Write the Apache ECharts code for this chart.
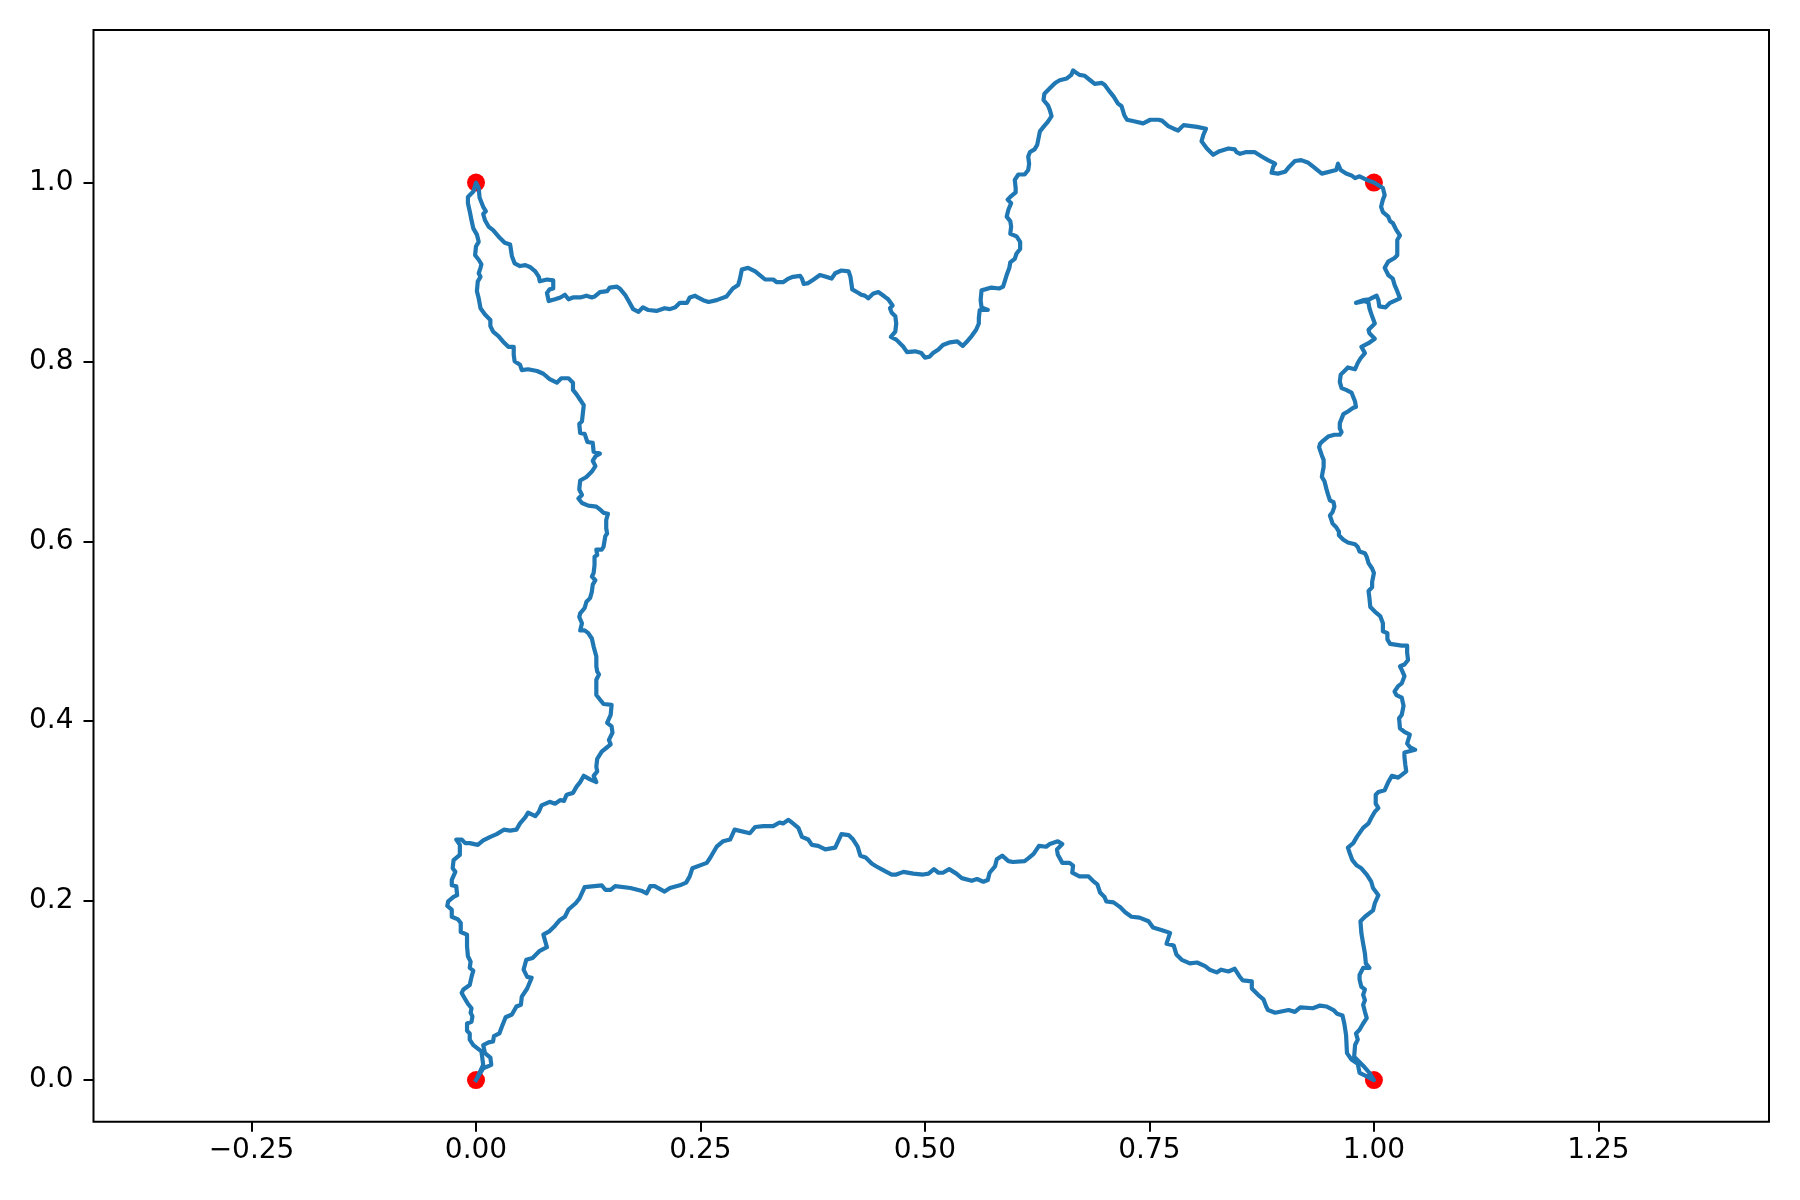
<!DOCTYPE html>
<html>
<head>
<meta charset="utf-8">
<script src="https://cdn.jsdelivr.net/npm/echarts@6/dist/echarts.min.js"></script>
<style>
html,body{margin:0;padding:0;background:#fff;}
#chart{width:1800px;height:1200px;}
</style>
</head>
<body>
<div id="chart"></div>
<script>
// Corner points (red markers)
const corners = [[0,0],[1,0],[1,1],[0,1]];

// Tick values
const xTicks = [-0.25, 0, 0.25, 0.5, 0.75, 1, 1.25];
const yTicks = [0, 0.2, 0.4, 0.6, 0.8, 1.0];

// Random-walk path pieces
const bottomPath = [[0,0],[0.008,0.013],[0.017,0.017],[0.016,0.025],[0.010,0.030],[0.008,0.039],[0.014,0.042],[0.019,0.043],[0.020,0.049],[0.026,0.052],[0.029,0.060],[0.033,0.070],[0.040,0.073],[0.045,0.082],[0.050,0.084],[0.051,0.093],[0.057,0.102],[0.062,0.114],[0.057,0.115],[0.053,0.123],[0.056,0.134],[0.063,0.136],[0.071,0.144],[0.079,0.148],[0.075,0.162],[0.082,0.166],[0.088,0.172],[0.093,0.178],[0.099,0.182],[0.103,0.190],[0.111,0.197],[0.115,0.202],[0.121,0.215],[0.140,0.217],[0.144,0.212],[0.150,0.212],[0.155,0.216],[0.172,0.214],[0.184,0.211],[0.190,0.208],[0.194,0.216],[0.199,0.216],[0.210,0.210],[0.216,0.214],[0.227,0.217],[0.234,0.220],[0.238,0.227],[0.241,0.236],[0.257,0.242],[0.261,0.248],[0.268,0.260],[0.275,0.266],[0.283,0.268],[0.288,0.279],[0.305,0.275],[0.311,0.282],[0.320,0.283],[0.331,0.283],[0.338,0.287],[0.342,0.286],[0.348,0.290],[0.353,0.286],[0.359,0.281],[0.363,0.271],[0.370,0.268],[0.374,0.262],[0.381,0.261],[0.389,0.257],[0.400,0.259],[0.407,0.274],[0.415,0.273],[0.420,0.268],[0.425,0.260],[0.428,0.250],[0.434,0.248],[0.441,0.241],[0.446,0.238],[0.455,0.233],[0.463,0.229],[0.468,0.229],[0.476,0.232],[0.487,0.230],[0.498,0.229],[0.504,0.230],[0.510,0.235],[0.515,0.231],[0.520,0.231],[0.527,0.235],[0.535,0.230],[0.541,0.225],[0.552,0.222],[0.558,0.224],[0.565,0.221],[0.570,0.223],[0.572,0.231],[0.578,0.238],[0.580,0.246],[0.586,0.250],[0.593,0.244],[0.598,0.243],[0.611,0.244],[0.615,0.247],[0.621,0.252],[0.627,0.261],[0.635,0.260],[0.639,0.263],[0.648,0.266],[0.653,0.263],[0.647,0.257],[0.648,0.251],[0.653,0.242],[0.661,0.242],[0.665,0.239],[0.664,0.231],[0.672,0.227],[0.682,0.227],[0.687,0.222],[0.692,0.218],[0.695,0.209],[0.700,0.204],[0.702,0.199],[0.710,0.198],[0.717,0.193],[0.723,0.187],[0.730,0.182],[0.739,0.181],[0.749,0.177],[0.754,0.170],[0.764,0.167],[0.773,0.164],[0.769,0.152],[0.777,0.150],[0.780,0.140],[0.786,0.134],[0.795,0.130],[0.803,0.131],[0.812,0.127],[0.817,0.123],[0.825,0.120],[0.830,0.123],[0.838,0.121],[0.845,0.124],[0.850,0.116],[0.854,0.111],[0.864,0.110],[0.864,0.102],[0.871,0.095],[0.877,0.090],[0.880,0.082],[0.882,0.078],[0.890,0.075],[0.905,0.078],[0.912,0.076],[0.918,0.081],[0.932,0.080],[0.940,0.083],[0.947,0.082],[0.955,0.078],[0.959,0.074],[0.965,0.072],[0.967,0.063],[0.969,0.050],[0.971,0.049],[0.970,0.030],[0.975,0.023],[0.982,0.018],[0.984,0.008],[0.992,0.004],[1,0]];

const rightPath = [[1,0],[0.995,0.008],[0.988,0.016],[0.978,0.026],[0.979,0.039],[0.982,0.045],[0.980,0.052],[0.984,0.056],[0.988,0.063],[0.992,0.069],[0.990,0.076],[0.988,0.084],[0.986,0.086],[0.990,0.089],[0.988,0.095],[0.990,0.101],[0.986,0.104],[0.984,0.112],[0.984,0.117],[0.988,0.125],[0.995,0.125],[0.991,0.130],[0.990,0.141],[0.988,0.152],[0.986,0.164],[0.985,0.177],[0.990,0.182],[0.999,0.189],[1.001,0.197],[1.005,0.206],[0.999,0.214],[0.997,0.221],[0.992,0.229],[0.986,0.236],[0.981,0.239],[0.976,0.245],[0.973,0.253],[0.971,0.259],[0.977,0.264],[0.981,0.271],[0.988,0.281],[0.994,0.286],[0.997,0.292],[1.001,0.299],[1.005,0.303],[1.002,0.308],[1.002,0.318],[1.005,0.321],[1.012,0.323],[1.016,0.332],[1.020,0.339],[1.027,0.337],[1.031,0.340],[1.036,0.344],[1.035,0.351],[1.034,0.360],[1.034,0.365],[1.046,0.368],[1.040,0.371],[1.037,0.375],[1.040,0.385],[1.034,0.388],[1.029,0.392],[1.028,0.403],[1.031,0.407],[1.033,0.417],[1.031,0.426],[1.025,0.429],[1.023,0.433],[1.027,0.439],[1.031,0.442],[1.034,0.450],[1.031,0.457],[1.029,0.461],[1.034,0.463],[1.038,0.468],[1.037,0.476],[1.037,0.484],[1.031,0.484],[1.018,0.486],[1.015,0.491],[1.015,0.498],[1.010,0.500],[1.010,0.509],[1.007,0.517],[1.001,0.522],[0.996,0.527],[0.995,0.537],[0.994,0.545],[0.998,0.549],[0.998,0.555],[1.000,0.565],[0.998,0.570],[0.994,0.576],[0.992,0.583],[0.990,0.587],[0.984,0.589],[0.982,0.594],[0.979,0.597],[0.971,0.599],[0.966,0.602],[0.961,0.607],[0.961,0.611],[0.958,0.616],[0.954,0.620],[0.951,0.629],[0.954,0.633],[0.956,0.639],[0.955,0.644],[0.951,0.646],[0.949,0.652],[0.947,0.659],[0.945,0.667],[0.942,0.672],[0.943,0.678],[0.944,0.683],[0.944,0.691],[0.942,0.696],[0.939,0.705],[0.940,0.709],[0.943,0.712],[0.949,0.717],[0.956,0.719],[0.962,0.719],[0.964,0.722],[0.962,0.726],[0.962,0.732],[0.964,0.737],[0.966,0.742],[0.971,0.745],[0.977,0.749],[0.980,0.750],[0.979,0.756],[0.975,0.766],[0.969,0.769],[0.964,0.771],[0.962,0.778],[0.963,0.786],[0.968,0.791],[0.971,0.794],[0.979,0.792],[0.982,0.799],[0.985,0.804],[0.990,0.810],[0.986,0.817],[0.994,0.821],[1.001,0.826],[0.995,0.832],[0.994,0.836],[0.998,0.840],[1.001,0.843],[0.998,0.851],[0.995,0.860],[0.994,0.866],[0.990,0.868],[0.980,0.866],[0.988,0.869],[0.995,0.870],[1.003,0.874],[1.005,0.869],[1.006,0.862],[1.013,0.861],[1.018,0.866],[1.029,0.871],[1.026,0.879],[1.023,0.886],[1.021,0.893],[1.016,0.897],[1.012,0.905],[1.016,0.912],[1.023,0.916],[1.026,0.919],[1.026,0.929],[1.026,0.936],[1.029,0.941],[1.025,0.947],[1.023,0.951],[1.021,0.955],[1.018,0.957],[1.016,0.962],[1.010,0.967],[1.008,0.973],[1.010,0.981],[1.012,0.986],[1.010,0.994],[1,1]];

const topPath = [[1,1],[0.992,1.003],[0.984,1.007],[0.979,1.005],[0.975,1.008],[0.969,1.010],[0.963,1.014],[0.960,1.021],[0.958,1.014],[0.942,1.010],[0.932,1.018],[0.927,1.022],[0.919,1.025],[0.912,1.024],[0.906,1.018],[0.901,1.012],[0.893,1.010],[0.886,1.011],[0.888,1.018],[0.890,1.021],[0.882,1.025],[0.875,1.029],[0.867,1.034],[0.858,1.034],[0.851,1.032],[0.847,1.034],[0.845,1.037],[0.838,1.038],[0.828,1.035],[0.821,1.031],[0.814,1.038],[0.808,1.046],[0.810,1.053],[0.813,1.060],[0.803,1.062],[0.788,1.064],[0.782,1.058],[0.777,1.060],[0.771,1.063],[0.764,1.069],[0.760,1.070],[0.751,1.070],[0.743,1.066],[0.734,1.068],[0.725,1.070],[0.722,1.075],[0.719,1.085],[0.715,1.088],[0.710,1.096],[0.706,1.101],[0.700,1.109],[0.697,1.111],[0.689,1.110],[0.684,1.114],[0.678,1.119],[0.672,1.120],[0.669,1.122],[0.665,1.125],[0.663,1.120],[0.658,1.116],[0.650,1.114],[0.645,1.111],[0.639,1.105],[0.633,1.099],[0.632,1.092],[0.637,1.086],[0.639,1.081],[0.641,1.074],[0.637,1.068],[0.632,1.062],[0.628,1.057],[0.626,1.047],[0.625,1.042],[0.622,1.037],[0.617,1.034],[0.615,1.029],[0.616,1.021],[0.615,1.014],[0.611,1.009],[0.604,1.009],[0.600,1.003],[0.601,0.994],[0.601,0.989],[0.595,0.984],[0.592,0.981],[0.596,0.977],[0.593,0.970],[0.591,0.962],[0.595,0.957],[0.596,0.951],[0.595,0.943],[0.602,0.940],[0.606,0.934],[0.606,0.926],[0.602,0.921],[0.600,0.915],[0.595,0.911],[0.594,0.905],[0.591,0.897],[0.587,0.884],[0.583,0.882],[0.574,0.883],[0.567,0.881],[0.563,0.880],[0.562,0.869],[0.563,0.861],[0.570,0.858],[0.561,0.858],[0.560,0.849],[0.560,0.843],[0.557,0.836],[0.552,0.829],[0.546,0.822],[0.542,0.818],[0.536,0.823],[0.528,0.822],[0.520,0.819],[0.515,0.814],[0.509,0.810],[0.505,0.806],[0.500,0.805],[0.496,0.810],[0.489,0.812],[0.480,0.811],[0.476,0.817],[0.468,0.825],[0.462,0.828],[0.467,0.834],[0.468,0.843],[0.467,0.851],[0.463,0.855],[0.461,0.860],[0.464,0.863],[0.459,0.870],[0.455,0.873],[0.448,0.878],[0.442,0.876],[0.437,0.871],[0.433,0.874],[0.429,0.875],[0.426,0.877],[0.419,0.881],[0.417,0.895],[0.415,0.901],[0.407,0.902],[0.400,0.899],[0.396,0.893],[0.387,0.896],[0.383,0.897],[0.376,0.892],[0.370,0.888],[0.365,0.887],[0.363,0.893],[0.361,0.896],[0.353,0.895],[0.348,0.893],[0.342,0.889],[0.335,0.889],[0.331,0.892],[0.322,0.892],[0.316,0.897],[0.311,0.901],[0.303,0.905],[0.296,0.903],[0.294,0.893],[0.292,0.886],[0.286,0.882],[0.279,0.873],[0.268,0.869],[0.259,0.867],[0.253,0.869],[0.247,0.872],[0.244,0.874],[0.238,0.872],[0.235,0.866],[0.227,0.866],[0.222,0.861],[0.216,0.859],[0.210,0.860],[0.201,0.857],[0.192,0.858],[0.186,0.861],[0.181,0.856],[0.175,0.859],[0.170,0.868],[0.166,0.875],[0.160,0.882],[0.157,0.884],[0.149,0.883],[0.146,0.879],[0.138,0.878],[0.132,0.873],[0.129,0.872],[0.123,0.874],[0.116,0.872],[0.108,0.872],[0.103,0.870],[0.099,0.875],[0.094,0.872],[0.088,0.870],[0.081,0.868],[0.079,0.877],[0.082,0.881],[0.086,0.882],[0.086,0.891],[0.079,0.892],[0.071,0.890],[0.070,0.895],[0.066,0.901],[0.060,0.906],[0.055,0.908],[0.049,0.907],[0.043,0.910],[0.040,0.918],[0.038,0.931],[0.032,0.933],[0.025,0.940],[0.019,0.947],[0.014,0.951],[0.010,0.958],[0.008,0.965],[0.011,0.968],[0.008,0.973],[0.004,0.983],[0.003,0.994],[0,1]];

const leftPath = [[0,1],[-0.003,0.990],[-0.009,0.984],[-0.009,0.977],[-0.007,0.968],[-0.005,0.958],[-0.003,0.949],[0.001,0.942],[0.003,0.934],[0.000,0.929],[-0.001,0.919],[0.003,0.914],[0.006,0.909],[0.005,0.905],[0.003,0.899],[0.005,0.895],[0.002,0.890],[0.001,0.879],[0.003,0.871],[0.005,0.860],[0.010,0.853],[0.016,0.847],[0.016,0.840],[0.019,0.834],[0.025,0.829],[0.030,0.823],[0.036,0.817],[0.042,0.817],[0.042,0.808],[0.043,0.801],[0.049,0.797],[0.051,0.791],[0.058,0.792],[0.068,0.790],[0.075,0.787],[0.082,0.781],[0.090,0.777],[0.095,0.782],[0.103,0.782],[0.108,0.777],[0.108,0.769],[0.112,0.764],[0.116,0.758],[0.120,0.752],[0.119,0.743],[0.118,0.734],[0.115,0.731],[0.116,0.721],[0.121,0.720],[0.124,0.711],[0.130,0.710],[0.131,0.700],[0.138,0.698],[0.133,0.695],[0.130,0.690],[0.133,0.684],[0.129,0.678],[0.123,0.672],[0.116,0.668],[0.115,0.658],[0.118,0.652],[0.114,0.648],[0.118,0.643],[0.125,0.640],[0.134,0.639],[0.139,0.635],[0.142,0.632],[0.147,0.631],[0.145,0.624],[0.145,0.615],[0.146,0.609],[0.144,0.606],[0.142,0.594],[0.140,0.591],[0.134,0.591],[0.135,0.585],[0.132,0.583],[0.132,0.574],[0.131,0.565],[0.129,0.561],[0.133,0.557],[0.130,0.552],[0.129,0.544],[0.127,0.537],[0.123,0.533],[0.121,0.526],[0.116,0.520],[0.115,0.516],[0.118,0.509],[0.116,0.501],[0.121,0.501],[0.125,0.498],[0.129,0.492],[0.131,0.483],[0.134,0.472],[0.134,0.461],[0.135,0.455],[0.137,0.452],[0.134,0.446],[0.134,0.439],[0.134,0.429],[0.138,0.424],[0.142,0.419],[0.151,0.418],[0.150,0.407],[0.146,0.398],[0.151,0.394],[0.152,0.387],[0.148,0.379],[0.150,0.374],[0.145,0.370],[0.140,0.366],[0.135,0.358],[0.134,0.349],[0.135,0.344],[0.131,0.339],[0.134,0.332],[0.127,0.335],[0.120,0.339],[0.116,0.332],[0.112,0.327],[0.108,0.320],[0.101,0.318],[0.098,0.311],[0.094,0.312],[0.088,0.308],[0.082,0.310],[0.073,0.306],[0.070,0.299],[0.066,0.294],[0.058,0.298],[0.055,0.293],[0.049,0.286],[0.045,0.279],[0.038,0.278],[0.031,0.279],[0.023,0.274],[0.016,0.271],[0.008,0.267],[0.002,0.262],[-0.007,0.264],[-0.012,0.264],[-0.016,0.268],[-0.022,0.268],[-0.018,0.262],[-0.018,0.251],[-0.025,0.245],[-0.026,0.236],[-0.023,0.232],[-0.027,0.223],[-0.027,0.217],[-0.022,0.216],[-0.021,0.206],[-0.025,0.204],[-0.031,0.199],[-0.032,0.194],[-0.027,0.190],[-0.027,0.182],[-0.020,0.179],[-0.017,0.175],[-0.017,0.165],[-0.010,0.162],[-0.010,0.149],[-0.012,0.147],[-0.009,0.138],[-0.006,0.132],[-0.007,0.125],[-0.003,0.122],[-0.005,0.115],[-0.007,0.106],[-0.014,0.101],[-0.016,0.097],[-0.012,0.090],[-0.009,0.085],[-0.005,0.080],[-0.006,0.075],[-0.004,0.071],[-0.005,0.065],[-0.010,0.063],[-0.010,0.055],[-0.007,0.052],[-0.007,0.045],[-0.003,0.039],[0.006,0.032],[0.008,0.017],[0,0]];

const loop = bottomPath.concat(rightPath.slice(1), topPath.slice(1), leftPath.slice(1));

const FONT = 'DejaVu Sans';
const chart = echarts.init(document.getElementById('chart'), null, {renderer: 'canvas'});
const tickStyle = {show: true, inside: false, length: 10, lineStyle: {color: '#000', width: 2}};
chart.setOption({
  animation: false,
  backgroundColor: '#fff',
  grid: {left: 93.5, top: 30, width: 1675.5, height: 1091.8, show: true, borderColor: '#000', borderWidth: 2, backgroundColor: 'transparent'},
  xAxis: {
    type: 'value', position: 'bottom',
    min: -0.426, max: 1.440,
    splitLine: {show: false},
    axisLine: {show: false, onZero: false},
    axisTick: Object.assign({}, tickStyle, {customValues: xTicks}),
    axisLabel: {customValues: xTicks, margin: 15, fontSize: 28, fontFamily: FONT, color: '#000',
      formatter: v => (v < 0 ? '\u2212' : '') + Math.abs(v).toFixed(2)}
  },
  yAxis: {
    type: 'value', position: 'left',
    min: -0.0465, max: 1.170,
    splitLine: {show: false},
    axisLine: {show: false, onZero: false},
    axisTick: Object.assign({}, tickStyle, {customValues: yTicks}),
    axisLabel: {customValues: yTicks, margin: 20, fontSize: 28, fontFamily: FONT, color: '#000',
      formatter: v => v.toFixed(1)}
  },
  series: [
    {type: 'scatter', data: corners, symbol: 'circle', symbolSize: 18, itemStyle: {color: '#ff0000', opacity: 1}, z: 2, silent: true},
    {type: 'line', data: loop, showSymbol: false, symbol: 'none', z: 3, silent: true,
      lineStyle: {color: '#1f77b4', width: 4.2, join: 'round', cap: 'square'}}
  ]
});
</script>
</body>
</html>
